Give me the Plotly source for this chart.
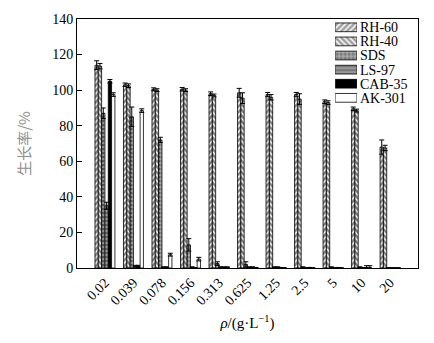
import plotly.graph_objects as go

# concentrations (g/L)
concentrations = ["0.02", "0.039", "0.078", "0.156", "0.313", "0.625",
                  "1.25", "2.5", "5", "10", "20"]

# growth rate (%) of each surfactant
rh60 = [114, 103, 100.5, 100.5, 98, 98.5, 97.5, 97.5, 93.5, 89.5, 68]
rh40 = [113.5, 102.5, 100, 100, 97, 95.5, 96, 95, 93, 88.5, 67.5]
sds = [87, 85, 72, 13, 2.5, 2, 0.5, 0.5, 0.5, 0.5, 0]
ls97 = [35, 1, 0.5, 0.5, 0.5, 0.5, 0.5, 0, 0, 0, 0]
cab35 = [105, 1, 0.5, 0, 0.5, 0.5, 0.3, 0.3, 0.3, 0.3, 0]
ak301 = [97.5, 88.5, 7.5, 5, 0.5, 0.3, 0, 0, 0, 0.3, 0]

# standard deviations
rh60_err = [2.5, 1, 0.8, 1, 1, 2.5, 1.2, 1.2, 1, 1, 4]
rh40_err = [1.5, 1, 0.8, 0.8, 0.8, 3, 1.5, 3, 1, 0.8, 1.5]
sds_err = [3, 5.5, 1.5, 3.5, 1, 1.5, 0, 0, 0, 0, 0]
ls97_err = [2, 0.5, 0, 0, 0, 0, 0, 0, 0, 0, 0]
cab35_err = [1, 0.5, 0, 0, 0, 0, 0, 0, 0, 1, 0]
ak301_err = [1, 1, 0.8, 1, 0, 0, 0, 0, 0, 1, 0]

names = ["RH-60", "RH-40", "SDS", "LS-97", "CAB-35", "AK-301"]
values = [rh60, rh40, sds, ls97, cab35, ak301]
errors = [rh60_err, rh40_err, sds_err, ls97_err, cab35_err, ak301_err]

# fill style for each surfactant: pattern shape, foreground, background, solidity
shapes = ["/", "\\", ".", "-", "", ""]
fg = ["black", "black", "black", "#222222", "black", "black"]
bg = ["white", "white", "#aaaaaa", "#999999", "black", "white"]
solid = [0.65, 0.65, 0.5, 0.4, 0.5, 0.5]
outline = dict(color="black", width=0.8)

fig = go.Figure()
for i, name in enumerate(names):
    pattern = dict(shape=shapes[i], fgcolor=fg[i], bgcolor=bg[i], size=4, solidity=solid[i])
    fig.add_trace(go.Bar(
        name=name, x=concentrations, y=values[i],
        marker=dict(color=bg[i], pattern=pattern, line=outline),
        error_y=dict(type="data", array=errors[i], color="black", thickness=1, width=2.5),
        showlegend=False,
    ))

# legend key: one swatch per surfactant on a small inset axis, names as tick labels
fig.add_trace(go.Bar(
    x=[1] * len(names), y=names, orientation="h", xaxis="x2", yaxis="y2",
    marker=dict(color=bg, line=outline,
                pattern=dict(shape=shapes, fgcolor=fg, bgcolor=bg, size=4, solidity=solid)),
    width=0.62, showlegend=False, hoverinfo="skip",
))

serif = "Liberation Serif, Times New Roman, serif"
fig.update_layout(
    width=434, height=343,
    margin=dict(l=77, r=16, t=13, b=75),
    paper_bgcolor="white", plot_bgcolor="white",
    barmode="group", bargap=0.3, bargroupgap=0,
    font=dict(family=serif, size=14, color="black"),
    showlegend=False,
    xaxis=dict(
        type="category", range=[-0.98, 10.98],
        showline=True, linecolor="black", linewidth=1, mirror=True,
        ticks="", tickangle=-45, tickfont=dict(family=serif, size=14),
        title=dict(text="<i>ρ</i>/(g·L<sup>−1</sup>)", font=dict(family=serif, size=15), standoff=10),
    ),
    yaxis=dict(
        range=[0, 140], dtick=20,
        showline=True, linecolor="black", linewidth=1, mirror=True,
        ticks="inside", ticklen=5, tickcolor="black", showgrid=False, zeroline=False,
        tickfont=dict(family=serif, size=14),
        title=dict(text="生长率/%", font=dict(family="Noto Sans CJK SC", size=15, color="#909090"), standoff=17),
    ),
    xaxis2=dict(domain=[0.757, 0.821], anchor="y2", range=[0, 1],
                visible=False, fixedrange=True),
    yaxis2=dict(domain=[0.655, 0.995], anchor="x2", type="category",
                categoryorder="array", categoryarray=names, range=[5.5, -0.5],
                tickmode="array", tickvals=names, ticktext=names,
                side="right", showline=False, showgrid=False, zeroline=False,
                ticks="", ticklabelstandoff=2, fixedrange=True,
                tickfont=dict(family=serif, size=14, color="black")),
)
fig.write_html("out.html")
